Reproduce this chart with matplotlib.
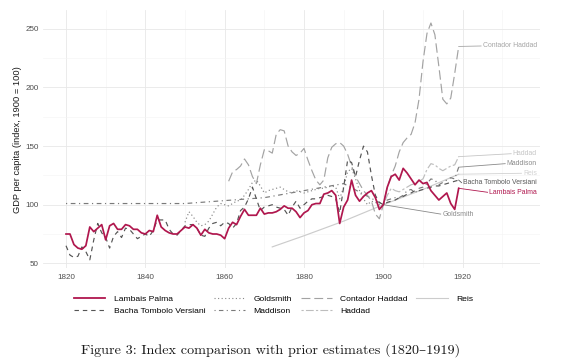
import matplotlib
matplotlib.use('Agg')
import matplotlib.pyplot as plt
from matplotlib.lines import Line2D
import numpy as np

plt.rcParams['font.family'] = ['Liberation Sans', 'DejaVu Sans']

# ---------------- data ----------------
lp_years = list(range(1820, 1920))
lp_values = [75, 75, 66, 63, 62, 65, 81, 77, 80, 83,
             70, 82, 84, 79, 79, 83, 82, 79, 79, 76,
             75, 78, 77, 91, 81, 78, 76, 75, 75, 78,
             81, 80, 83, 80, 74, 79, 76, 75, 75, 74,
             71, 80, 85, 83, 90, 96, 91, 91, 91, 97,
             92, 93, 93, 94, 96, 99, 97, 97, 94, 89,
             93, 95, 100, 101, 101, 109, 110, 112, 108, 84,
             98, 104, 121, 108, 103, 107, 110, 112, 106, 96,
             100, 115, 124, 126, 121, 131, 127, 122, 117, 121,
             118, 119, 112, 108, 104, 107, 110, 101, 96, 114]

btv_years = list(range(1820, 1920))
btv_values = [65, 57, 55, 56, 64, 60, 53, 70, 84, 76,
              72, 63, 73, 77, 72, 80, 79, 75, 71, 73,
              75, 73, 78, 87, 87, 87, 79, 75, 74, 78,
              82, 83, 83, 80, 74, 73, 80, 84, 85, 82,
              85, 84, 80, 84, 95, 98, 105, 115, 105, 95,
              98, 99, 100, 98, 97, 96, 91, 98, 103, 97,
              100, 103, 105, 105, 106, 107, 108, 107, 105, 93,
              115, 138, 136, 124, 138, 150, 145, 125, 108, 102,
              100, 102, 103, 104, 106, 107, 109, 110, 112, 112,
              113, 114, 115, 116, 116, 117, 118, 119, 120, 121]

gold_years = list(range(1850, 1901))
gold_values = [85, 94, 90, 85, 82, 83, 86, 92, 98, 101,
               100, 99, 101, 103, 104, 108, 113, 119, 121, 116,
               110, 112, 113, 114, 115, 113, 111, 110, 112, 111,
               110, 111, 112, 113, 114, 114, 115, 116, 115, 105,
               115, 128, 131, 122, 112, 105, 100, 103, 102, 100,
               100]

ch_years = list(range(1861, 1920))
ch_values = [120, 128, 130, 133, 139, 134, 124, 118, 134,
             147, 146, 144, 160, 164, 163, 150, 145, 142, 144,
             148, 138, 129, 121, 117, 121, 140, 149, 152, 153,
             150, 143, 133, 124, 118, 112, 108, 103, 92, 88,
             100, 115, 125, 133, 145, 153, 157, 160, 170, 190,
             222, 246, 255, 245, 218, 190, 186, 191, 212, 235]

mad_years = [1820, 1850, 1870, 1890, 1900, 1901, 1902, 1903, 1904, 1905,
             1906, 1907, 1908, 1909, 1910, 1911, 1912, 1913, 1914, 1915,
             1916, 1917, 1918, 1919]
mad_values = [101, 101, 106, 118, 100, 104, 105, 106, 106, 108,
              112, 113, 110, 114, 115, 118, 122, 121, 117, 119,
              121, 123, 122, 132]

had_years = list(range(1900, 1920))
had_values = [100, 108, 114, 112, 111, 113, 115, 117, 118, 120,
              122, 130, 135, 134, 131, 129, 131, 133, 134, 141]

reis_years = [1872, 1880, 1890, 1900, 1910, 1919]
reis_values = [64, 73.5, 86, 100, 113, 126]

series_names = ["Lambais Palma", "Bacha Tombolo Versiani", "Goldsmith", "Maddison",
                "Contador Haddad", "Haddad", "Reis"]

x_ticks = [1820, 1840, 1860, 1880, 1900, 1920]
y_ticks = [50, 100, 150, 200, 250]

# ---------------- styles ----------------
CRIMSON = '#B0174E'
styles = {
    "Lambais Palma": dict(color=CRIMSON, lw=1.25, ls='-'),
    "Bacha Tombolo Versiani": dict(color='#555555', lw=0.85, ls=(0, (4, 3.5))),
    "Goldsmith": dict(color='#888888', lw=0.85, ls=(0, (1, 2.2))),
    "Maddison": dict(color='#7a7a7a', lw=0.85, ls=(0, (1, 3, 4, 3))),
    "Contador Haddad": dict(color='#a3a3a3', lw=0.85, ls=(0, (8, 3.5))),
    "Haddad": dict(color='#bdbdbd', lw=0.85, ls=(0, (2, 2, 7, 2))),
    "Reis": dict(color='#cccccc', lw=0.85, ls='-'),
}
data = {
    "Lambais Palma": (lp_years, lp_values),
    "Bacha Tombolo Versiani": (btv_years, btv_values),
    "Goldsmith": (gold_years, gold_values),
    "Maddison": (mad_years, mad_values),
    "Contador Haddad": (ch_years, ch_values),
    "Haddad": (had_years, had_values),
    "Reis": (reis_years, reis_values),
}

fig = plt.figure(figsize=(5.67, 3.62), dpi=100)
ax = fig.add_axes([43 / 567, 1 - 268 / 362, (540 - 43) / 567, (268 - 10) / 362])

draw_order = ["Reis", "Haddad", "Maddison", "Contador Haddad", "Goldsmith",
              "Bacha Tombolo Versiani", "Lambais Palma"]
for name in draw_order:
    xs, ys = data[name]
    st = styles[name]
    ax.plot(xs, ys, color=st['color'], lw=st['lw'], linestyle=st['ls'],
            solid_joinstyle='round', zorder=3 if name != "Lambais Palma" else 5)

ax.set_xlim(1814.2, 1939.5)
ax.set_ylim(46, 266.1)
ax.set_xticks(x_ticks)
ax.set_xticklabels([str(t) for t in x_ticks])
ax.set_yticks(y_ticks)
ax.set_yticklabels([str(t) for t in y_ticks])
ax.set_xticks([1830, 1850, 1870, 1890, 1910, 1930], minor=True)
ax.set_yticks([75, 125, 175, 225], minor=True)
ax.grid(which='major', color='#e8e8e8', lw=0.6, zorder=0)
ax.grid(which='minor', color='#f3f3f3', lw=0.4, zorder=0)
ax.set_axisbelow(True)
for s in ax.spines.values():
    s.set_visible(False)
ax.tick_params(which='both', length=0)
ax.tick_params(axis='both', labelsize=5.8, colors='#4d4d4d')
ax.tick_params(axis='x', pad=4)
ax.tick_params(axis='y', pad=3)

fig.text(18 / 567, 1 - 140 / 362, "GDP per capita (index, 1900 = 100)", rotation=90,
         ha='center', va='center', fontsize=6.7, color='#1a1a1a')

# ---------------- end labels ----------------
label_info = {
    "Contador Haddad": ('#a6a6a6', 235.4),
    "Haddad": ('#c6c6c6', 143.5),
    "Maddison": ('#8a8a8a', 135.0),
    "Reis": ('#d2d2d2', 126.8),
    "Bacha Tombolo Versiani": ('#5a5a5a', 118.8),
    "Lambais Palma": (CRIMSON, 110.6),
}
texts = {}
for name, (col, yl) in label_info.items():
    texts[name] = ax.text(1938.7, yl, name, ha='right', va='center', fontsize=4.95,
                          color=col, zorder=6)
texts["Goldsmith"] = ax.text(1918.8, 92, "Goldsmith", ha='center', va='center',
                             fontsize=4.95, color='#8a8a8a', zorder=6)
label_cols = {k: v[0] for k, v in label_info.items()}
label_cols["Goldsmith"] = '#8a8a8a'

fig.canvas.draw()
renderer = fig.canvas.get_renderer()
inv = ax.transData.inverted()
for name, t in texts.items():
    bb = t.get_window_extent(renderer)
    xl, yl = inv.transform((bb.x0 - 1.5, (bb.y0 + bb.y1) / 2))
    xs, ys = data[name]
    ax.plot([xs[-1], xl], [ys[-1], yl], color=label_cols[name], lw=0.6, zorder=4)

# ---------------- legend ----------------
handles = []
for name in series_names:
    st = styles[name]
    handles.append(Line2D([0], [0], color=st['color'], lw=(1.3 if name == "Lambais Palma" else 0.8),
                          linestyle=st['ls']))
fig.legend(handles, series_names, loc='center', bbox_to_anchor=(0.4824, 1 - 305 / 362),
           ncol=4, frameon=False, fontsize=6.1, handlelength=3.7, handletextpad=1.0,
           columnspacing=1.0, labelspacing=0.5, borderpad=0, borderaxespad=0)

fig.text(0.478, 1 - 350 / 362, "Figure 3: Index comparison with prior estimates (1820\u20131919)",
         ha='center', va='center', fontsize=10.2, family=['cmr10', 'DejaVu Serif'], color='#1a1a1a')

fig.savefig('out.png', dpi=100)
